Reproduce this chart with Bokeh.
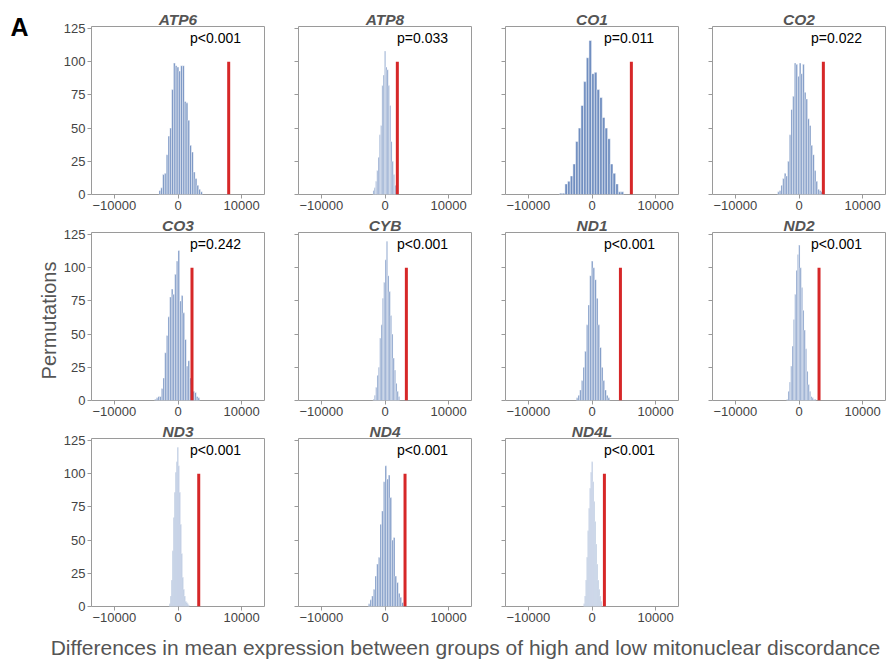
from math import pi
from bokeh.plotting import figure
from bokeh.layouts import row, column
from bokeh.models import Range1d, FixedTicker, Label
from bokeh.core.properties import value
from bokeh.embed import file_html
from bokeh.resources import INLINE

# ---------------- data ----------------
genes = ["ATP6", "ATP8", "CO1", "CO2", "CO3", "CYB", "ND1", "ND2", "ND3", "ND4", "ND4L"]
p_text = ["p<0.001", "p=0.033", "p=0.011", "p=0.022", "p=0.242", "p<0.001",
          "p<0.001", "p<0.001", "p<0.001", "p<0.001", "p<0.001"]
observed = [7970, 1940, 6190, 3830, 2200, 3360, 4470, 3150, 3260, 3150, 1950]
bin_start = [-2990, -1890, -5100, -3360, -3670, -1890, -2460, -1940, -1360, -2620, -1310]
bin_width = [284, 200, 420, 262, 262, 210, 262, 210, 157, 262, 157]

counts_ATP6 = [3, 5, 15, 16, 30, 44, 50, 79, 99, 97, 96, 93, 97, 97, 70, 69, 56, 37, 32, 17, 12, 7, 4, 2]
counts_ATP8 = [3, 5, 10, 18, 28, 45, 52, 82, 90, 108, 96, 94, 82, 67, 40, 25, 15, 7]
counts_CO1 = [1, 1, 8, 10, 14, 23, 40, 50, 67, 85, 103, 116, 91, 92, 79, 73, 58, 50, 42, 23, 16, 8, 2, 2]
counts_CO2 = [2, 3, 7, 12, 16, 14, 25, 45, 64, 74, 99, 98, 89, 99, 91, 98, 77, 72, 57, 52, 37, 30, 18, 10, 4, 3, 2]
counts_CO3 = [1, 2, 3, 3, 9, 17, 36, 49, 63, 78, 84, 80, 95, 105, 113, 75, 79, 66, 46, 26, 30, 17, 12, 7, 6, 3, 2]
counts_CYB = [1, 4, 10, 19, 25, 47, 57, 77, 89, 106, 120, 94, 82, 64, 50, 32, 23, 13, 7, 3]
counts_ND1 = [2, 4, 8, 15, 25, 37, 57, 72, 94, 105, 100, 91, 77, 57, 40, 25, 15, 8, 4, 2]
counts_ND2 = [1, 7, 14, 26, 41, 61, 80, 98, 110, 117, 100, 85, 68, 53, 39, 22, 12, 7, 3, 2, 1, 1]
counts_ND3 = [2, 8, 20, 42, 67, 86, 101, 109, 120, 106, 86, 62, 40, 22, 13, 8, 4, 3, 2, 1]
counts_ND4 = [2, 5, 8, 13, 23, 32, 37, 62, 72, 94, 106, 96, 99, 82, 50, 52, 23, 18, 10, 7, 3]
counts_ND4L = [2, 8, 20, 37, 57, 74, 89, 101, 109, 94, 79, 64, 47, 32, 20, 13, 8, 4]

counts = [counts_ATP6, counts_ATP8, counts_CO1, counts_CO2, counts_CO3, counts_CYB,
          counts_ND1, counts_ND2, counts_ND3, counts_ND4, counts_ND4L]

x_ticks = [-10000, 0, 10000]
y_ticks = [0, 25, 50, 75, 100, 125]
x_label = "Differences in mean expression between groups of high and low mitonuclear discordance"
y_label = "Permutations"

# ---------------- styling ----------------
FONT = "Liberation Sans"
FRAME_W, FRAME_H = 173, 168
BL, BL1, BR, BT, BB = 32, 28, 2, 19, 19
GRAY = "#9a9a9a"
TOP_PAD = 7
LEFT_W = 60


def make_panel(i, first_col):
    f = figure(frame_width=FRAME_W, frame_height=FRAME_H,
               x_range=Range1d(-13600, 13600), y_range=Range1d(0, 126.5),
               output_backend="svg", toolbar_location=None,
               min_border_left=BL1 if first_col else BL, min_border_right=BR,
               min_border_top=BT, min_border_bottom=BB)
    f.title.text = genes[i]
    f.title.align = "center"
    f.title.text_font = FONT
    f.title.text_font_style = "bold italic"
    f.title.text_font_size = "15.5px"
    f.title.text_color = "#555555"
    f.title.standoff = -2
    f.xgrid.grid_line_color = None
    f.ygrid.grid_line_color = None
    f.outline_line_color = GRAY
    f.outline_line_width = 1
    f.background_fill_color = "white"
    f.border_fill_color = "white"

    left = [bin_start[i] + k * bin_width[i] for k in range(len(counts[i]))]
    right = [x + bin_width[i] for x in left]
    f.quad(left=left, right=right, bottom=0, top=counts[i],
           fill_color="#4c72b0", fill_alpha=0.8,
           line_color="white", line_width=0.5)
    f.segment(x0=[observed[i]], y0=[0], x1=[observed[i]], y1=[100],
              line_color="#d62728", line_width=3)
    f.text(x=[1900], y=[118], text=[p_text[i]], text_font=value(FONT),
           text_font_size="14px", text_baseline="middle", text_align="left",
           text_color="black")

    for ax in (f.xaxis[0], f.yaxis[0]):
        ax.axis_line_color = None
        ax.major_tick_line_color = GRAY
        ax.major_tick_in = 0
        ax.major_tick_out = 4
        ax.minor_tick_line_color = None
        ax.major_label_text_font = FONT
        ax.major_label_text_font_size = "13px"
        ax.major_label_text_color = "#444444"
        ax.major_label_standoff = 2
    f.xaxis.ticker = FixedTicker(ticks=x_ticks)
    f.yaxis.ticker = FixedTicker(ticks=y_ticks)
    f.xaxis.major_label_overrides = {-10000: "\u221210000", 0: "0", 10000: "10000"}
    if not first_col:
        f.yaxis.major_label_overrides = {t: "" for t in y_ticks}
    return f


def blank(width, height):
    b = figure(width=width, height=height, x_range=Range1d(0, width),
               y_range=Range1d(0, height), min_border=0,
               x_axis_location=None, y_axis_location=None,
               output_backend="svg", toolbar_location=None)
    b.outline_line_color = None
    b.xgrid.grid_line_color = None
    b.ygrid.grid_line_color = None
    return b


panels = [make_panel(i, i % 4 == 0) for i in range(len(genes))]
grid = column(row(*panels[0:4]), row(*panels[4:8]), row(*panels[8:11]))

GRID_H = 3 * (BT + FRAME_H + BB)
TOTAL_W = 890

left = blank(LEFT_W, GRID_H)
left.add_layout(Label(x=10, y=GRID_H - 5, text="A", text_font=FONT,
                      text_font_size="25px", text_font_style="bold",
                      text_baseline="top", text_align="left", text_color="black"))
left.add_layout(Label(x=48.5, y=GRID_H - 313, text=y_label, angle=pi / 2,
                      text_font=FONT, text_font_size="20px",
                      text_align="center", text_baseline="middle",
                      text_color="#555555"))

BOT_H = 36
bottom = blank(TOTAL_W, BOT_H)
bottom.add_layout(Label(x=465, y=14, text=x_label, text_font=FONT,
                        text_font_size="21px", text_align="center",
                        text_baseline="middle", text_color="#555555"))

page = column(blank(TOTAL_W, TOP_PAD), row(left, grid), bottom)

open("out.html", "w").write(file_html(page, INLINE))
